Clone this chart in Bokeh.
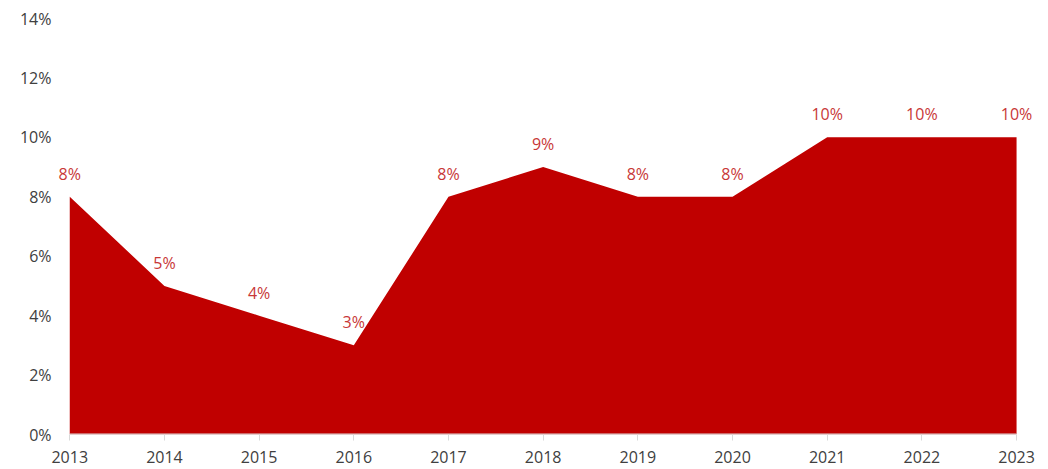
from bokeh.plotting import figure
from bokeh.models import ColumnDataSource, NumeralTickFormatter, FixedTicker, Range1d
from bokeh.embed import file_html
from bokeh.resources import INLINE
from bokeh.core.properties import value

years = [2013, 2014, 2015, 2016, 2017, 2018, 2019, 2020, 2021, 2022, 2023]
rates = [0.08, 0.05, 0.04, 0.03, 0.08, 0.09, 0.08, 0.08, 0.10, 0.10, 0.10]
labels = ["8%", "5%", "4%", "3%", "8%", "9%", "8%", "8%", "10%", "10%", "10%"]
y_ticks = [0, 0.02, 0.04, 0.06, 0.08, 0.10, 0.12, 0.14]

src = ColumnDataSource(dict(x=years, y=rates, zero=[0] * len(years), lab=labels))

p = figure(width=1040, height=468, output_backend="svg", toolbar_location=None,
           x_range=Range1d(years[0] - 0.14, years[-1] + 0.2), y_range=Range1d(0, 0.14),
           min_border_left=56, min_border_right=5, min_border_top=18, min_border_bottom=34)
p.outline_line_color = None
p.grid.visible = False
p.background_fill_color = "white"

p.varea(x="x", y1="zero", y2="y", source=src, fill_color="#C00000")

# baseline of the x axis, only between the first and last year
p.segment(x0=[years[0]], y0=[0], x1=[years[-1]], y1=[0], line_color="#D9D9D9", line_width=2)

p.text(x="x", y="y", text="lab", source=src, text_align="center", text_baseline="middle",
       y_offset=-23, text_color="#C83737", text_font=value("Open Sans"), text_font_size="16px")

p.xaxis.ticker = FixedTicker(ticks=years)
p.xaxis.axis_line_color = None
p.xaxis.major_tick_line_color = "#D9D9D9"
p.xaxis.major_tick_out = 6
p.xaxis.major_tick_in = 0
p.xaxis.minor_tick_line_color = None
p.xaxis.major_label_standoff = 10
p.xaxis.major_label_text_font = "Open Sans"
p.xaxis.major_label_text_font_size = "16px"
p.xaxis.major_label_text_color = "#404040"

p.yaxis.ticker = FixedTicker(ticks=y_ticks)
p.yaxis.formatter = NumeralTickFormatter(format="0%")
p.yaxis.axis_line_color = None
p.yaxis.major_tick_line_color = None
p.yaxis.major_tick_out = 0
p.yaxis.major_tick_in = 0
p.yaxis.minor_tick_line_color = None
p.yaxis.major_label_standoff = 5
p.yaxis.major_label_text_font = "Open Sans"
p.yaxis.major_label_text_font_size = "16px"
p.yaxis.major_label_text_color = "#404040"

open("out.html", "w").write(file_html(p, INLINE))
